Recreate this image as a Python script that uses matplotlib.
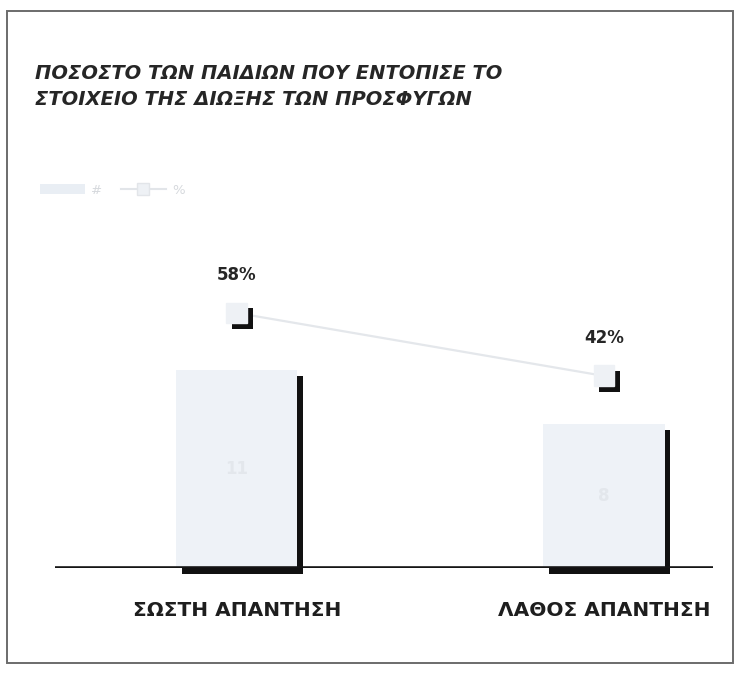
import matplotlib
matplotlib.use("Agg")
import matplotlib.pyplot as plt
import matplotlib.patheffects as pe
from matplotlib.patches import Rectangle
from matplotlib.lines import Line2D
from matplotlib.patches import Patch

# data
categories = ["ΣΩΣΤΗ ΑΠΑΝΤΗΣΗ", "ΛΑΘΟΣ ΑΠΑΝΤΗΣΗ"]
counts = [11, 8]
percents = [58, 42]
title = "ΠΟΣΟΣΤΟ ΤΩΝ ΠΑΙΔΙΩΝ ΠΟΥ ΕΝΤΟΠΙΣΕ ΤΟ\nΣΤΟΙΧΕΙΟ ΤΗΣ ΔΙΩΞΗΣ ΤΩΝ ΠΡΟΣΦΥΓΩΝ"

W, H = 747, 675
fig = plt.figure(figsize=(W / 100, H / 100), dpi=100)
fig.patch.set_facecolor("white")

# outer frame of the scanned box
fig.add_artist(Rectangle((7 / W, 1 - 663 / H), 726 / W, 652 / H,
                         transform=fig.transFigure, fill=False,
                         edgecolor="#6b6b6b", linewidth=1.4))

fig.text(35 / W, 1 - 64 / H, title, fontsize=14, fontstyle="italic",
         fontweight="bold", color="#262626", va="top", ha="left",
         linespacing=1.45)

# axes placed in pixel terms
ax = fig.add_axes([55 / W, 1 - 568 / H, 658 / W, 338 / H])
x = [0, 1]
bar_fill = "#eef2f7"
shadow = [pe.SimplePatchShadow(offset=(4, -4), shadow_rgbFace="#111111", alpha=1.0),
          pe.Normal()]
bars = ax.bar(x, counts, width=0.33, color=bar_fill, path_effects=shadow, zorder=2)
for b in bars:
    b.set_clip_on(False)
ax.bar_label(bars, labels=[str(c) for c in counts], label_type="center",
             color="#e3e7ec", fontsize=12, fontweight="bold")
ax.axhline(0, color="#151515", linewidth=2.6, zorder=3)
ax.set_xlim(-0.495, 1.297)
ax.set_ylim(0, 18.8)
ax.set_yticks([])
ax.set_xticks(x, categories)
ax.tick_params(axis="x", length=0, pad=24, labelsize=14.5, labelcolor="#1e1e1e")
for lbl in ax.get_xticklabels():
    lbl.set_fontweight("bold")
for s in ax.spines.values():
    s.set_visible(False)

# percentage line on its own scale
ax2 = ax.twinx()
ax2.plot(x, percents, color="#e4e7eb", linewidth=1.6, zorder=2)
ax2.plot(x, percents, linestyle="none", marker="s", markersize=15,
         markerfacecolor="#eef1f5", markeredgecolor="#eef1f5",
         path_effects=[pe.SimplePatchShadow(offset=(4, -4), shadow_rgbFace="#111111",
                                            alpha=1.0), pe.Normal()], zorder=3)
for xi, p in zip(x, percents):
    ax2.annotate(f"{p}%", (xi, p), xytext=(0, 27), textcoords="offset points",
                 ha="center", va="center", fontsize=12, fontweight="bold",
                 color="#262626")
ax2.set_ylim(-6.85, 79.1)
ax2.set_yticks([])
for s in ax2.spines.values():
    s.set_visible(False)

# faint legend
handles = [Patch(facecolor="#e9eef4", edgecolor="none", label="#"),
           Line2D([0], [0], color="#e2e5e9", marker="s", markersize=8,
                  markerfacecolor="#eef1f5", markeredgecolor="#e2e5e9", label="%")]
leg = fig.legend(handles=handles, loc="center left", bbox_to_anchor=(28 / W, 1 - 190 / H),
                 ncol=2, frameon=False, fontsize=9.5, handlelength=3.4,
                 columnspacing=1.4, handletextpad=0.5)
for t in leg.get_texts():
    t.set_color("#d6d9dd")

fig.savefig("out.png", dpi=100)
